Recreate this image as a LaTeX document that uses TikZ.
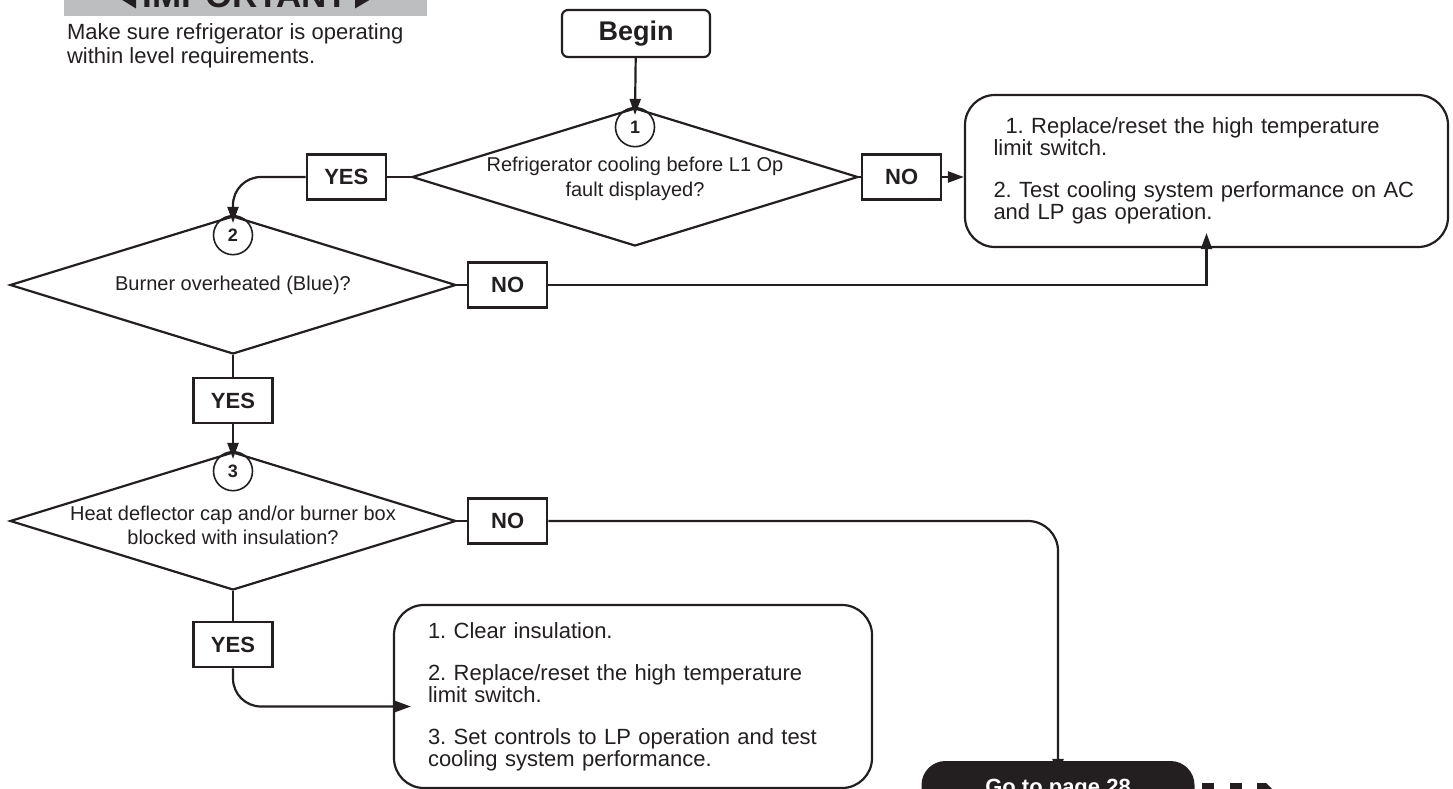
\documentclass[tikz,border=0pt]{standalone}
\usepackage{fontspec}
\setmainfont{Liberation Sans}
\usetikzlibrary{arrows.meta,positioning,shapes.geometric,calc}
\definecolor{ink}{HTML}{231F20}
\definecolor{bannerbg}{HTML}{BCBEC0}
\frenchspacing

\begin{document}
\begin{tikzpicture}[
  x=1pt, y=1pt, line width=2.2pt, color=ink,
  quest/.style={draw, diamond, minimum width=446pt, minimum height=138pt, inner sep=0pt},
  qtext/.style={align=center, inner sep=0pt, font=\fontsize{20pt}{24pt}\selectfont},
  ans/.style={draw, minimum width=79pt, minimum height=45pt, inner sep=0pt,
              font=\bfseries\fontsize{22pt}{22pt}\selectfont},
  numc/.style={draw, circle, line width=1.6pt, minimum size=39pt, inner sep=0pt,
               font=\bfseries\fontsize{18pt}{18pt}\selectfont},
  actbox/.style={draw, rounded corners=30pt, align=left, inner sep=0pt,
                 font=\fontsize{22pt}{22pt}\selectfont},
  flow/.style={-{Triangle[length=16pt,width=11pt]}},
]
\useasboundingbox (0,0) rectangle (1453,-789);
\clip (0,0) rectangle (1453,-789);

% banner and note
\node[fill=bannerbg, minimum width=363pt, minimum height=40pt, inner sep=0pt] (banner) at (245.5,4.3) {};
\node[anchor=base, inner sep=0pt, font=\bfseries\fontsize{35pt}{35pt}\selectfont] (imp) at (245.5,-8) {IMPORTANT};
\fill (115,4.5) -- (136,17.5) -- (136,-8.5) -- cycle;
\fill (377,4.5) -- (355,17.5) -- (355,-8.5) -- cycle;
\node[anchor=north west, align=left, inner sep=0pt, font=\fontsize{22pt}{24pt}\selectfont] (note) at (66,-22)
  {Make sure refrigerator is operating\\within level requirements.};

% start
\node[draw, rounded corners=6pt, minimum width=148pt, minimum height=47pt, inner sep=0pt,
      font=\bfseries\fontsize{27pt}{27pt}\selectfont] (begin) at (636,-33.5) {Begin};

% questions
\node[quest] (q1) at (635,-177) {};
\node[qtext, font=\fontsize{20pt}{25pt}\selectfont] (q1t) at ([yshift=-2pt]q1.center)
  {Refrigerator cooling before L1 Op\\fault displayed?};
\node[numc, below=0pt of q1.north] (c1) {1};

\node[quest] (q2) at (233,-285) {};
\node[qtext] (q2t) at (q2) {Burner overheated (Blue)?};
\node[numc, below=0pt of q2.north] (c2) {2};

\node[quest] (q3) at (233,-521) {};
\node[qtext] (q3t) at ([yshift=-4pt]q3.center) {Heat deflector cap and/or burner box\\blocked with insulation?};
\node[numc, below=0pt of q3.north] (c3) {3};

% answers
\node[ans, left=24pt of q1]  (y1)  {YES};
\node[ans, right=2pt of q1]  (no1) {NO};
\node[ans, right=10pt of q2] (no2) {NO};
\node[ans, below=22pt of q2] (y2)  {YES};
\node[ans, right=10pt of q3] (no3) {NO};
\node[ans, below=30pt of q3] (y3)  {YES};

% actions
\node[actbox, minimum width=483pt, minimum height=152pt, text width=426pt] (fix1) at (1206.5,-171)
  {\hspace*{12pt}1. Replace/reset the high temperature\\limit switch.\\[20pt]
   2. Test cooling system performance on AC\\and LP gas operation.};
\node[actbox, minimum width=478pt, minimum height=183pt, text width=410pt] (fix2) at (633,-696.5)
  {1. Clear insulation.\\[20pt]2. Replace/reset the high temperature\\limit switch.\\[20pt]
   3. Set controls to LP operation and test\\cooling system performance.};
\node[fill=ink, rounded corners=24pt, minimum width=273pt, minimum height=56pt, inner sep=0pt,
      text=white, font=\bfseries\fontsize{22pt}{22pt}\selectfont] (goto) at (1058,-789) {Go to page 28};
\fill (1202,-783) rectangle (1214,-795);
\fill (1230,-783) rectangle (1242,-795);
\fill (1257,-783) -- (1266,-783) -- (1280,-797) -- (1266,-811) -- (1257,-811) -- cycle;

% connectors
\draw[flow] (begin) -- ([yshift=-8pt]q1.north);
\draw (q1.west) -- (y1.east);
\draw[flow, rounded corners=28pt] (y1.west) -| ([yshift=-8pt]q2.north);
\draw (q1.east) -- (no1.west);
\draw[flow] (no1.east) -- (fix1.west |- no1.east);
\draw (q2.east) -- (no2.west);
\draw[flow] (no2.east) -| ([yshift=15pt]fix1.south);
\draw (q2.south) -- (y2.north);
\draw[flow] (y2.south) -- ([yshift=-8pt]q3.north);
\draw (q3.east) -- (no3.west);
\draw[flow, rounded corners=30pt] (no3.east) -| ([yshift=-15pt]goto.north);
\draw (q3.south) -- (y3.north);
\draw[flow, rounded corners=28pt] (y3.south) |- ([xshift=18pt,yshift=-10pt]fix2.west);
\end{tikzpicture}
\end{document}
